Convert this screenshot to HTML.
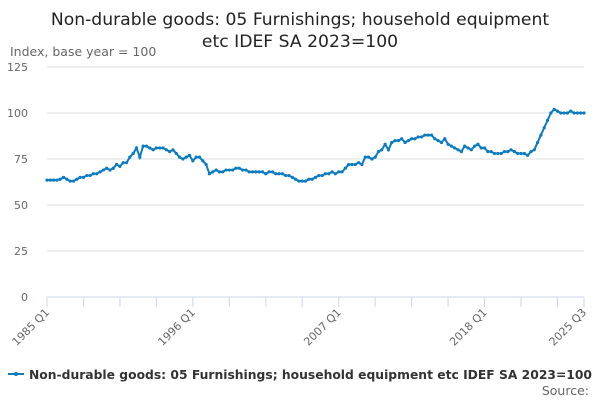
<!DOCTYPE html>
<html><head><meta charset="utf-8"><style>
body{margin:0;width:600px;height:400px;background:#fff;font-family:"Liberation Sans","DejaVu Sans",sans-serif;overflow:hidden}
svg text{font-family:"DejaVu Sans","Liberation Sans",sans-serif}
</style></head><body>
<svg id="chart" width="600" height="400" xmlns="http://www.w3.org/2000/svg">
<text x="300" y="25" text-anchor="middle" font-size="17.2" fill="#222">Non-durable goods: 05 Furnishings; household equipment</text>
<text x="300" y="47" text-anchor="middle" font-size="17.2" fill="#222">etc IDEF SA 2023=100</text>
<text x="10" y="56" font-size="12.5" fill="#666">Index, base year = 100</text>
<g id="grid"></g><g id="xaxis"></g><g id="series"></g>
<g>
<line x1="8" y1="374" x2="24" y2="374" stroke="#0b7bc1" stroke-width="2"/><circle cx="16" cy="374" r="2" fill="#0b7bc1"/>
<text x="29" y="379" font-size="12.5" font-weight="bold" fill="#333" textLength="563" lengthAdjust="spacingAndGlyphs">Non-durable goods: 05 Furnishings; household equipment etc IDEF SA 2023=100</text>
</g>
<text x="589" y="395" text-anchor="end" font-size="12.5" fill="#666">Source:</text>
</svg>
<script>
const yTicks=[0,25,50,75,100,125];
const xLabels=["1985 Q1","1996 Q1","2007 Q1","2018 Q1","2025 Q3"];
const xLabelIdx=[0,44,88,132,162];
const values=[
63.5,63.5,63.5,63.5, 64,65,64,63, 63,64,65,65, 66,66,67,67, 68,69,70,69,
70,72,71,73, 73,76,78,81, 76,82,82,81, 80,81,81,81, 80,79,80,78,
76,75,76,77, 74,76,76,74, 72,67,68,69, 68,68,69,69, 69,70,70,69,
69,68,68,68, 68,68,67,68, 68,67,67,67, 66,66,65,64, 63,63,63,64,
64,65,66,66, 67,67,68,67, 68,68,70,72, 72,72,73,72, 76,76,75,76,
79,80,83,80, 84,85,85,86, 84,85,86,86, 87,87,88,88, 88,86,85,84,
86,83,82,81, 80,79,82,81, 80,82,83,81, 81,79,79,78, 78,78,79,79,
80,79,78,78, 78,77,79,80, 84,88,92,96, 100,102,101,100, 100,100,101,100,
100,100,100];
const X0=47,X1=584,Y0=297,Y1=67;
const n=values.length;
const xs=i=>X0+(X1-X0)*i/(n-1);
const ys=v=>Y0-(Y0-Y1)*v/125;
const NS="http://www.w3.org/2000/svg";
function mk(t,a,p){const e=document.createElementNS(NS,t);for(const k in a)e.setAttribute(k,a[k]);p.appendChild(e);return e;}
const grid=document.getElementById('grid');
yTicks.forEach(v=>{
 if(v>0){const l=mk('line',{x1:X0,x2:X1,y1:ys(v),y2:ys(v),stroke:'#ddd','stroke-width':1},grid);
 
 }
 const t=mk('text',{x:28,y:ys(v)+4,'text-anchor':'end','font-size':11,fill:'#666'},grid);
 
 
 t.textContent=v;
});
const xa=document.getElementById('xaxis');
const al=mk('line',{x1:X0,x2:X1,y1:Y0,y2:Y0,stroke:'#ccd6eb'},xa);


for(let i=0;i<n;i+=11){const tk=mk('line',{x1:xs(i),x2:xs(i),y1:Y0,y2:Y0+10,stroke:'#ccd6eb'},xa);
 
 }
mk('line',{x1:xs(n-1),x2:xs(n-1),y1:Y0,y2:Y0+10,stroke:'#ccd6eb'},xa);
xLabels.forEach((s,j)=>{const x=xs(xLabelIdx[j]);
 const t=mk('text',{x:x+3,y:Y0+16,'text-anchor':'end','font-size':11,fill:'#666',transform:`rotate(-45 ${x+3} ${Y0+16})`},xa);
 
 
 t.textContent=s;});
const sg=document.getElementById('series');
const path=mk('polyline',{points:values.map((v,i)=>xs(i)+','+ys(v)).join(' '),fill:'none',stroke:'#0b7bc1','stroke-width':2},sg);


values.forEach((v,i)=>{const c=mk('circle',{cx:xs(i),cy:ys(v),r:1.6,fill:'#0b7bc1'},sg);
 
 });
</script>
</body></html>
